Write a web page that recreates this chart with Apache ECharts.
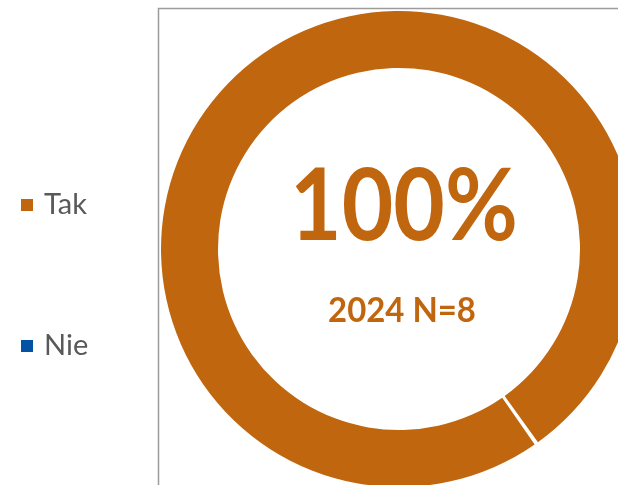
<!DOCTYPE html>
<html>
<head>
<meta charset="utf-8">
<style>
  html, body { margin: 0; padding: 0; background: #ffffff; }
  #chart { width: 618px; height: 485px; }
</style>
<script src="https://cdn.jsdelivr.net/npm/echarts@6/dist/echarts.min.js"></script>
</head>
<body>
<div id="chart"></div>
<script>
// Survey answers and their counts
const categories = ['Tak', 'Nie'];
const values = [8, 0];
const colors = ['#C0660F', '#0352A3'];
const subtitle = '2024 N=8';

const total = values.reduce((a, b) => a + b, 0);
const takShare = Math.round(values[0] / total * 100) + '%';

const chart = echarts.init(document.getElementById('chart'), null, { renderer: 'canvas' });

const cx = 399, cy = 249;

chart.setOption({
  animation: false,
  color: colors,
  legend: {
    orient: 'vertical',
    left: 21,
    top: 190,
    padding: 0,
    icon: 'rect',
    itemWidth: 12,
    itemHeight: 12,
    itemGap: 111,
    selectedMode: false,
    data: categories,
    textStyle: {
      fontFamily: 'Lato',
      fontSize: 29,
      lineHeight: 30,
      color: '#595959',
      padding: [0, 0, 0, 6]
    }
  },
  graphic: [
    {
      type: 'rect',
      silent: true,
      z: -1,
      shape: { x: 158.5, y: 8.5, width: 700, height: 700 },
      style: { fill: 'none', stroke: '#9c9c9c', lineWidth: 1.5 }
    },
    {
      type: 'text',
      silent: true,
      x: 404,
      y: 208,
      scaleX: 0.89,
      style: {
        text: takShare,
        font: 'bold 100px Lato',
        fill: colors[0],
        align: 'center',
        verticalAlign: 'middle'
      }
    },
    {
      type: 'text',
      silent: true,
      x: 402,
      y: 311,
      scaleX: 0.94,
      style: {
        text: subtitle,
        font: 'bold 35px Lato',
        fill: colors[0],
        align: 'center',
        verticalAlign: 'middle'
      }
    }
  ],
  series: [
    {
      type: 'pie',
      center: [cx, cy],
      radius: [181, 238],
      startAngle: -55,
      clockwise: true,
      padAngle: 0.48,
      avoidLabelOverlap: false,
      label: { show: false },
      labelLine: { show: false },
      emphasis: { disabled: true },
      itemStyle: { borderWidth: 0 },
      data: categories.map((name, i) => ({ name, value: values[i] }))
    }
  ]
});
</script>
</body>
</html>
